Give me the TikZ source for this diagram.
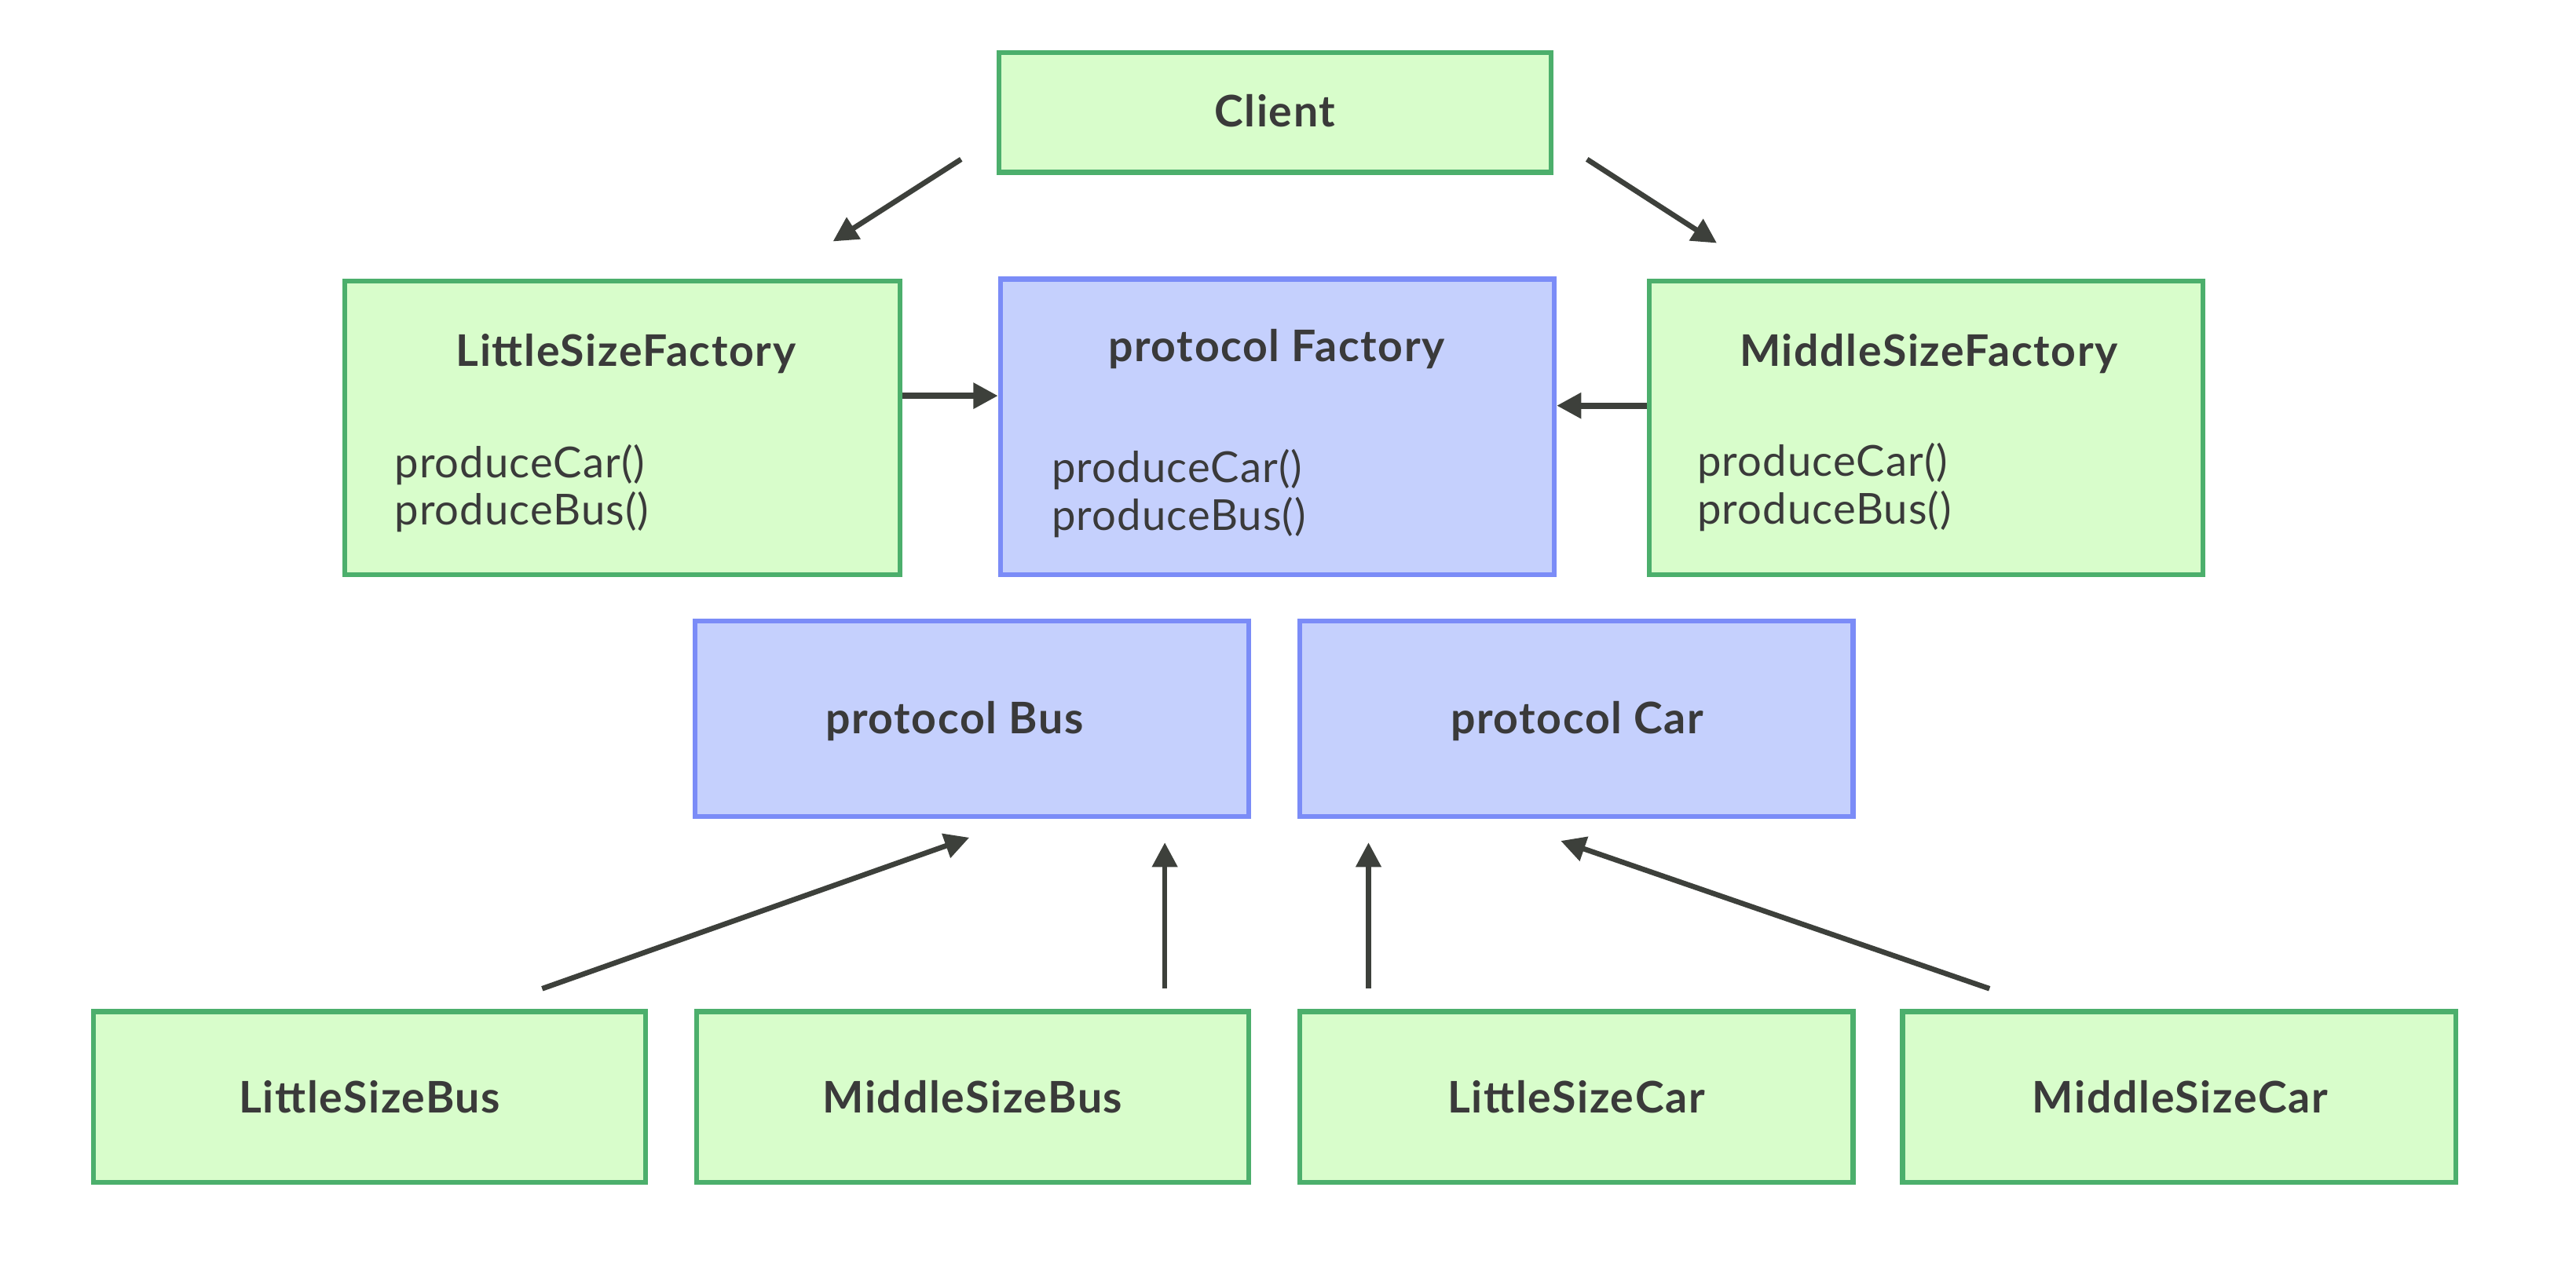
\documentclass[tikz,border=0pt]{standalone}
\usepackage{fontspec}
\setmainfont{Lato}
\newfontfamily\titlefont{Lato}[LetterSpace=3]
\newfontfamily\methfont{Lato}[LetterSpace=2]
\usetikzlibrary{arrows.meta}
\definecolor{gfill}{HTML}{D8FDCB}
\definecolor{gline}{HTML}{4CAF6C}
\definecolor{bfill}{HTML}{C5D0FD}
\definecolor{bline}{HTML}{7B8CF7}
\definecolor{ink}{HTML}{3D403B}
\definecolor{txt}{HTML}{3A3A3A}
\begin{document}
\begin{tikzpicture}[x=1pt,y=-1pt,
  box/.style={draw, line width=3pt, inner sep=0pt, minimum width=#1},
  gbox/.style={box=336pt, fill=gfill, draw=gline},
  bbox/.style={box=337pt, fill=bfill, draw=bline},
  title/.style={anchor=base, text=txt, font=\titlefont\fontsize{26.5}{30}\selectfont\bfseries, inner sep=0pt},
  meth/.style={anchor=base west, text=txt, font=\methfont\fontsize{26}{28}\selectfont, inner sep=0pt, align=left},
  arr/.style={draw=ink, line width=3.2pt, -{Triangle[length=15pt,width=15pt]}},
  harr/.style={arr, line width=3.8pt}
]
\useasboundingbox (0,0) rectangle (1568,769.6);
% boxes
\node[gbox, minimum height=73pt] (client) at (776,68.5) {};
\node[gbox, minimum width=338pt, minimum height=179pt] (lsf) at (379,260.5) {};
\node[bbox, minimum height=180pt] (pf) at (777.5,260) {};
\node[gbox, minimum width=337pt, minimum height=179pt] (msf) at (1172.5,260.5) {};
\node[bbox, minimum height=119pt] (pbus) at (591.5,437.5) {};
\node[bbox, minimum height=119pt] (pcar) at (959.5,437.5) {};
\node[gbox, minimum height=104pt] (lsbus) at (225,668) {};
\node[gbox, minimum height=104pt] (msbus) at (592,668) {};
\node[gbox, minimum width=337pt, minimum height=104pt] (lscar) at (959.5,668) {};
\node[gbox, minimum width=337pt, minimum height=104pt] (mscar) at (1326.5,668) {};
% texts
\node[title] (tclient) at (776,77) {Client};
\node[title] (tlsf) at (381,223) {LittleSizeFactory};
\node[title] (tpf) at (777,220) {protocol Factory};
\node[title] (tmsf) at (1174,223) {MiddleSizeFactory};
\node[title] (tpbus) at (581,446.5) {protocol Bus};
\node[title] (tpcar) at (960,446.5) {protocol Car};
\node[title] (tlsbus) at (225,677.5) {LittleSizeBus};
\node[title] (tmsbus) at (592,677.5) {MiddleSizeBus};
\node[title] (tlscar) at (959.5,677.5) {LittleSizeCar};
\node[title] (tmscar) at (1327,677.5) {MiddleSizeCar};
\node[meth] (mlsf1) at (240,291) {produceCar()};
\node[meth] (mlsf2) at (240,319.5) {produceBus()};
\node[meth] (mpf1) at (640,294) {produceCar()};
\node[meth] (mpf2) at (640,323) {produceBus()};
\node[meth] (mmsf1) at (1033,290) {produceCar()};
\node[meth] (mmsf2) at (1033,319) {produceBus()};
% arrow end points
\coordinate (a1s) at (585,97);   \coordinate (a1e) at (507,147);
\coordinate (a2s) at (966,97);   \coordinate (a2e) at (1045,148);
\coordinate (b1s) at (330,602);  \coordinate (b1e) at (590,510);
\coordinate (b2s) at (709,602);  \coordinate (b2e) at (709,513);
\coordinate (b3s) at (833,602);  \coordinate (b3e) at (833,513);
\coordinate (b4s) at (1211,602); \coordinate (b4e) at (950,512);
% connectors
\draw[arr] (a1s) -- (a1e);
\draw[arr] (a2s) -- (a2e);
\draw[harr] (lsf.east |- 0,241) -- (pf.west |- 0,241);
\draw[harr] (msf.west |- 0,247) -- (pf.east |- 0,247);
\draw[arr] (b1s) -- (b1e);
\draw[arr] (b2s) -- (b2e);
\draw[arr] (b3s) -- (b3e);
\draw[arr] (b4s) -- (b4e);
\end{tikzpicture}
\end{document}
